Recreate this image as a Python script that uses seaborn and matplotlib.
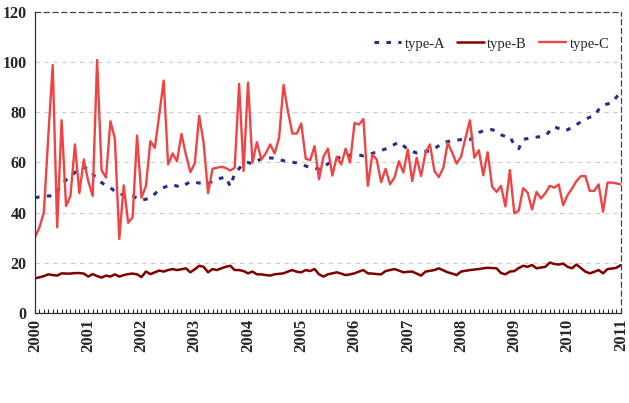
import numpy as np
import pandas as pd
import matplotlib
matplotlib.use("Agg")
import matplotlib.pyplot as plt
import seaborn as sns

# monthly values, Jan 2000 .. Jan 2011
type_a = [46, 46.3, 46.5, 46.7, 46.7, 48.5, 51.3, 53, 54.4, 56, 57.5, 58, 57.5, 55.5, 53.3, 52,
          50.8, 50, 48.5, 47.4, 47.2, 47, 46.7, 45.8, 45, 45.4, 45.8, 47.5, 49.2, 50, 50.8, 51.2,
          50.6, 50.2, 51.3, 52.4, 52.2, 51.8, 51.8, 51.7, 52.5, 53.4, 53.8, 54.2, 50.5, 55.6, 57.6, 59.5,
          60, 59.5, 60.5, 61.5, 62, 61.8, 61.7, 61.2, 60.7, 60.3, 60.1, 59.8, 59.3, 58.6, 58, 57.7,
          57.4, 58, 59.5, 60.4, 61.5, 62.3, 62.6, 62.9, 63.2, 63, 62.6, 63, 63.6, 64.3, 64.8, 65.4,
          66.2, 67.2, 68.1, 66.7, 65.2, 64.4, 63.8, 64.1, 64.5, 64.5, 65.5, 66.7, 68, 68.3, 68.7, 68.9,
          69.1, 69.2, 69.1, 70.6, 71.9, 72.6, 72.8, 73.1, 72.2, 71, 70.4, 70.3, 67, 65.5, 69.2, 69.5,
          69.9, 70.1, 70.3, 70.6, 72.5, 74.3, 73.5, 72.6, 73, 74, 75, 76.2, 77.2, 78, 78.6, 81,
          82.8, 83.3, 83.7, 86, 88]
type_b = [13.9, 14.3, 14.8, 15.5, 15.2, 15, 15.9, 15.8, 15.8, 16, 16, 15.8, 14.6, 15.6, 14.8, 14.2,
          15, 14.6, 15.5, 14.6, 15.2, 15.6, 15.8, 15.5, 14.4, 16.6, 15.6, 16.3, 17, 16.6, 17.2, 17.6,
          17.2, 17.5, 17.9, 16.3, 17.5, 18.9, 18.5, 16.3, 17.6, 17.2, 17.9, 18.5, 18.9, 17.2, 17.2, 16.8,
          15.9, 16.6, 15.5, 15.5, 15.2, 15, 15.5, 15.7, 15.9, 16.6, 17.2, 16.5, 16.3, 17.2, 16.8, 17.6,
          15.5, 14.6, 15.5, 15.9, 16.3, 15.8, 15.2, 15.5, 15.9, 16.6, 17.2, 15.9, 15.8, 15.6, 15.5, 16.8,
          17.2, 17.6, 17, 16.3, 16.5, 16.6, 15.8, 15, 16.6, 16.9, 17.2, 17.9, 17.1, 16.3, 15.8, 15.2,
          16.6, 16.9, 17.2, 17.4, 17.6, 17.9, 18.1, 18, 17.9, 16, 15.5, 16.6, 16.8, 18, 18.9, 18.5,
          19.2, 17.9, 18.2, 18.5, 20.2, 19.6, 19.4, 19.8, 18.5, 17.9, 19.4, 18, 16.6, 15.9, 16.5, 17.2,
          15.9, 17.6, 17.8, 18.1, 19.2]
type_c = [30.2, 34.2, 40.1, 70.4, 98.8, 34.2, 76.8, 42.7, 46.7, 67.2, 47.8, 61.2, 52.6, 46.7, 100.8, 57,
          54, 76.4, 69.5, 29.6, 50.9, 36, 38.2, 70.7, 46, 50.7, 68.5, 65.8, 79, 92.6, 59.2, 63.6,
          60.5, 71.4, 63.2, 56.2, 59.6, 78.6, 67.8, 47.8, 57.5, 57.9, 58.3, 57.8, 56.8, 57.9, 91.3, 56.6,
          91.8, 59.9, 68.1, 61.2, 63.6, 67.2, 63.6, 69.8, 90.9, 80.3, 71.5, 71.5, 75.5, 61.5, 60.9, 66.5,
          53.3, 62.3, 65.5, 54.8, 62.3, 59.2, 65.5, 60, 75.7, 75.1, 77.3, 50.7, 63.2, 61.2, 52.2, 57.5,
          51.3, 54, 60.5, 56, 65.2, 52.6, 61.9, 54.6, 63.9, 67.2, 56.6, 54.2, 57.9, 67.8, 63.9, 59.6,
          62.3, 69.8, 76.8, 61.9, 64.9, 54.9, 64.1, 50.4, 48.3, 50.7, 42.5, 57, 39.8, 40.8, 49.8, 48,
          41.3, 48.3, 45.7, 47.8, 50.7, 50, 51.3, 43, 47, 49.6, 52.6, 54.6, 54.6, 48.7, 48.7, 51.3,
          40.4, 52, 52, 51.7, 51.3]
years = list(range(2000, 2012))

t = 2000 + np.arange(len(type_c)) / 12.0
df = pd.DataFrame({"t": t, "type-A": type_a, "type-B": type_b, "type-C": type_c})

sns.set_style("white")
plt.rcParams['font.family'] = ['Liberation Serif', 'DejaVu Serif']

fig = plt.figure(figsize=(6.29, 4.03), dpi=100)
ax = fig.add_axes([0.0556, 0.2226, 0.9314, 0.7484])

sns.lineplot(data=df, x="t", y="type-A", ax=ax, color="#2b2b8c", lw=2.2,
             linestyle=(0, (1.5, 2.4)), label="type-A")
sns.lineplot(data=df, x="t", y="type-B", ax=ax, color="#800000", lw=1.8, label="type-B")
sns.lineplot(data=df, x="t", y="type-C", ax=ax, color="#f04444", lw=1.7, label="type-C")

ax.set_xlim(2000, 2011)
ax.set_ylim(0, 120)
ax.set_xlabel("")
ax.set_ylabel("")
ax.set_yticks(range(0, 121, 20))
ax.set_xticks(years)
ax.set_xticks(2000 + np.arange(133) / 12.0, minor=True)
ax.set_xticklabels([str(y) for y in years], rotation=90, fontweight="bold", fontsize=12)
ax.set_yticklabels([str(v) for v in range(0, 121, 20)], fontweight="bold", fontsize=11.5)
ax.tick_params(axis="x", which="both", direction="in", length=3, width=0.8, bottom=True, pad=4)
ax.tick_params(axis="y", direction="in", length=0, pad=6)

for v in range(20, 101, 20):
    ax.axhline(v, color="#cccccc", lw=0.8, ls=(0, (4, 4)), zorder=0)

ax.spines["left"].set_color("#333333")
ax.spines["bottom"].set_color("#333333")
ax.spines["top"].set_linestyle((0, (4, 3)))
ax.spines["top"].set_color("#444444")
ax.spines["right"].set_linestyle((0, (4, 3)))
ax.spines["right"].set_color("#444444")
for s in ax.spines.values():
    s.set_linewidth(0.9)

ax.legend(loc="center right", bbox_to_anchor=(0.99, 0.893), ncol=3, frameon=False,
          fontsize=10.5, handlelength=1.85, columnspacing=0.8, handletextpad=0.25, borderaxespad=0)

fig.savefig("out.png", dpi=100)
plt.close()
